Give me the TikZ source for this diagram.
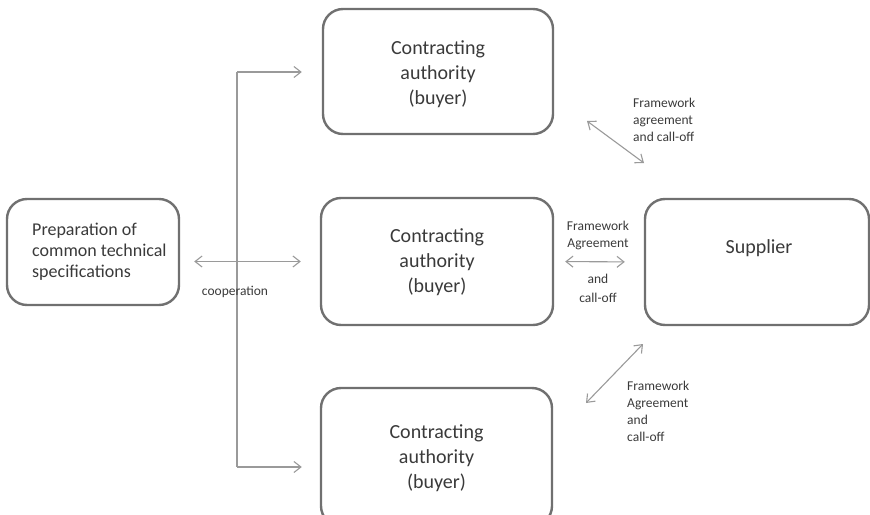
\documentclass[tikz,border=0pt]{standalone}
\usepackage{fontspec}
\setmainfont{Carlito}
\usetikzlibrary{arrows.meta}
\definecolor{boxline}{HTML}{707070}
\definecolor{arrowline}{HTML}{9A9A9A}
\definecolor{ink}{HTML}{3A3A3A}
\begin{document}
\begin{tikzpicture}[x=1pt,y=-1pt,
  box/.style={draw=boxline,line width=2.4pt,rounded corners=20pt,inner sep=0pt},
  bigtext/.style={text=ink,font=\fontsize{20}{25}\selectfont,align=center,inner sep=0pt},
  preptext/.style={text=ink,font=\fontsize{18}{21}\selectfont,align=left,inner sep=0pt},
  smalltext/.style={text=ink,font=\fontsize{13.5}{17}\selectfont,inner sep=0pt},
  link/.style={draw=arrowline,line width=1.1pt},
  tip/.tip={Straight Barb[length=7pt,width=11pt]}
]
\clip (0,0) rectangle (870,514);

% boxes
\node[box,minimum width=172pt,minimum height=106pt] (prep) at (93,252) {};
\node[box,minimum width=230pt,minimum height=125pt] (top) at (438,71.5) {};
\node[box,minimum width=232pt,minimum height=127pt] (mid) at (437,261.5) {};
\node[box,minimum width=231pt,minimum height=138pt] (bot) at (436.5,457) {};
\node[box,minimum width=224pt,minimum height=126pt] (sup) at (757,262) {};

% box texts
\node[preptext,anchor=west] (preplabel) at (32,252) {Preparation of\\common technical\\specifications};
\node[bigtext] (toplabel) at (438,74) {Contracting\\authority\\(buyer)};
\node[bigtext] (midlabel) at (437,262.5) {Contracting\\authority\\(buyer)};
\node[bigtext] (botlabel) at (436.5,458) {Contracting\\authority\\(buyer)};
\node[bigtext] (suplabel) at (759,248) {Supplier};

% cooperation links
\coordinate (jt) at (237,72);
\coordinate (jb) at (237,467);
\draw[link] (jt) -- (jb);
\draw[link,-tip,shorten >=20pt] (jt) -- (jt -| top.west);
\draw[link,-tip,shorten >=18pt] (jb) -- (jb -| bot.west);
\draw[link,tip-tip,shorten <=14pt,shorten >=19pt] (prep.east |- mid.west) -- (mid.west);
\node[smalltext] (coop) at (235,292) {cooperation};

% framework agreement links
\coordinate (d1s) at (587,121);
\coordinate (d1e) at (644,163);
\coordinate (d2s) at (643,344);
\coordinate (d2e) at (586,403);
\draw[link,tip-tip] (d1s) -- (d1e);
\draw[link,tip-tip] (d2s) -- (d2e);
\draw[link,tip-tip,shorten <=11pt,shorten >=19pt] (mid.east) -- (sup.west);

\node[smalltext,align=left,anchor=west] (fa1) at (633,120) {Framework\\agreement\\and call-off};
\node[smalltext,align=center] (fa2a) at (598,235.5) {Framework\\Agreement};
\node[smalltext,align=center,font=\fontsize{13.5}{19}\selectfont] (fa2b) at (598,288) {and\\call-off};
\node[smalltext,align=left,anchor=west] (fa3) at (627,411.5) {Framework\\Agreement\\and\\call-off};
\end{tikzpicture}
\end{document}
